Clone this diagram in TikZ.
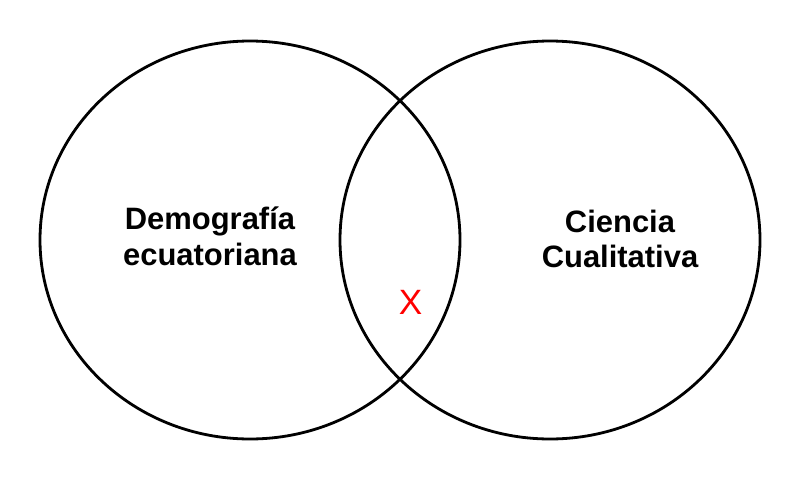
\documentclass[tikz,border=0pt]{standalone}
\usepackage{fontspec}
\setmainfont{Liberation Sans}
\usepackage{xcolor}
\usepackage{tikz}

\begin{document}
\begin{tikzpicture}[x=0.025cm, y=-0.025cm, line width=2pt,
    setlabel/.style={font=\bfseries\fontsize{22}{25.5}\selectfont, align=center}]
            \useasboundingbox (0,0) rectangle (800,480);
            \draw (250,240) ellipse [x radius=210, y radius=199];
            \draw (550,240) ellipse [x radius=210, y radius=199];
            \node[setlabel] (demo) at (210,236) {Demografía\\ecuatoriana};
            \node[setlabel] (ciencia) at (620,239) {Ciencia\\Cualitativa};
            \node[red, font=\fontsize{25}{28}\selectfont] (cruce) at (410.5,302) {X};
        \end{tikzpicture}
\end{document}
